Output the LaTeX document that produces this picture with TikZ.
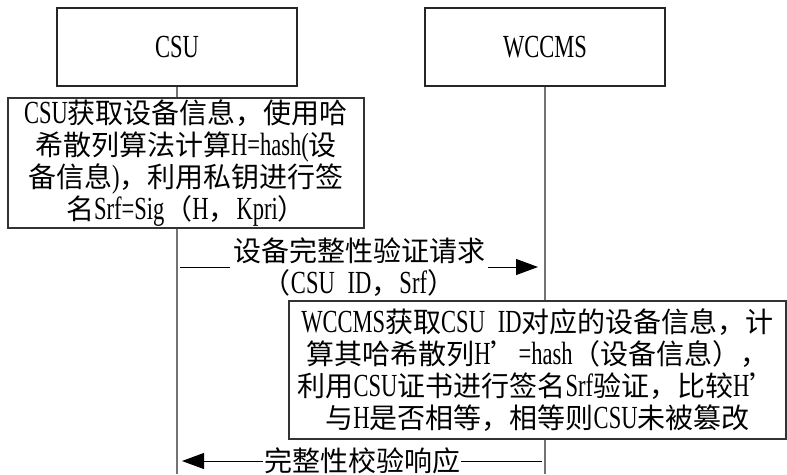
\documentclass[tikz,border=0pt]{standalone}
\usepackage{fontspec}
\setmainfont[FakeStretch=0.7,Scale=1.15]{Liberation Serif}
\newfontfamily\cjk{Noto Sans CJK SC}
\newcommand\zh[1]{{\cjk #1}}
\usetikzlibrary{arrows.meta}
\begin{document}
\begin{tikzpicture}[x=1pt,y=-1pt,
  every node/.style={font=\fontsize{28}{32}\selectfont, inner sep=0pt},
  actor/.style={draw=black!85, line width=1.1pt, minimum width=240, minimum height=78},
  procbox/.style={draw=black!80, line width=1.1pt, align=center},
  life/.style={draw=black!55, line width=1.6pt},
  msg/.style={draw=black, line width=0.9pt, -{Triangle[length=22pt,width=16pt]}},
  lbl/.style={fill=white, align=center, inner xsep=3pt, inner ysep=0pt}]
\useasboundingbox (0,0) rectangle (787,474);
\node[actor] (csu) at (177,47) {CSU};
\node[actor] (wcc) at (545,47) {WCCMS};
\node[procbox, minimum width=356, minimum height=130] (p1) at (186,163)
  {CSU\zh{获取设备信息，使用哈}\\
   \zh{希散列算法计算}H=hash(\zh{设}\\
   \zh{备信息})\zh{，利用私钥进行签}\\
   \zh{名}Srf=Sig\zh{（}H\zh{，}Kpri\zh{）}};
\node[procbox, minimum width=497, minimum height=138] (p2) at (537.5,370)
  {WCCMS\zh{获取}CSU\hspace{0.4em}ID\zh{对应的设备信息，计}\\
   \zh{算其哈希散列}H\zh{’}=hash\zh{（设备信息），}\\
   \zh{利用}CSU\zh{证书进行签名}Srf\zh{验证，比较}H\zh{’}\\
   \zh{与}H\zh{是否相等，相等则}CSU\zh{未被篡改}};
\coordinate (csuend) at (177,474);
\coordinate (wccend) at (545,474);
\draw[life] (csu.south) -- (csu.south |- p1.north);
\draw[life] (csu.south |- p1.south) -- (csuend);
\draw[life] (wcc.south) -- (wcc.south |- p2.north);
\draw[life] (wcc.south |- p2.south) -- (wccend);
\coordinate (m1a) at (180,267);
\coordinate (m1b) at (538,267);
\coordinate (m2a) at (542,461);
\coordinate (m2b) at (182,461);
\draw[msg] (m1a) -- node[lbl] {\zh{设备完整性验证请求}\\\zh{（}CSU\hspace{0.4em}ID\zh{，}Srf\zh{）}} (m1b);
\draw[msg] (m2a) -- node[lbl, inner xsep=1pt] {\zh{完整性校验响应}} (m2b);
\end{tikzpicture}
\end{document}
